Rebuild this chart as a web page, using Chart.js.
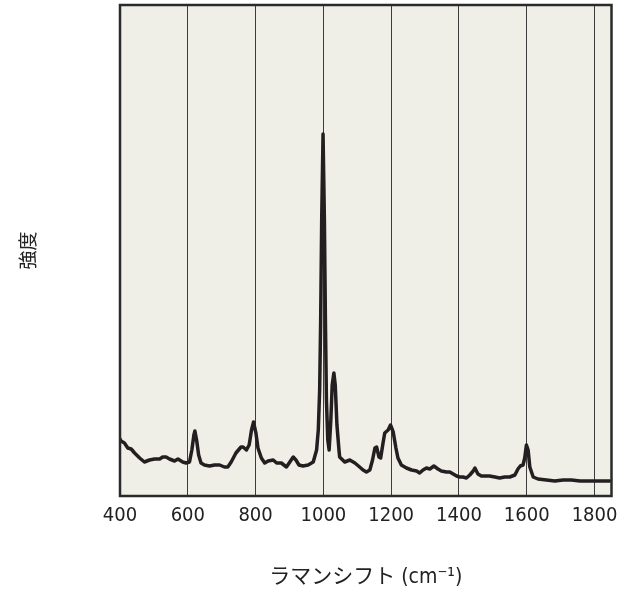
<!DOCTYPE html>
<html>
<head>
<meta charset="utf-8">
<script src="https://cdn.jsdelivr.net/npm/chart.js@4"></script>
<style>
  html, body { margin: 0; padding: 0; background: #fff; }
  #wrap { width: 627px; height: 596px; }
</style>
</head>
<body>
<div id="wrap"><canvas id="raman"></canvas></div>
<script>
const ramanShift = [400, 403, 413, 423, 433, 443, 458, 472, 487, 502, 517, 526, 536, 546, 561, 571, 585, 595, 605, 612, 618, 621, 626, 632, 639, 649, 664, 679, 694, 708, 718, 728, 742, 757, 763, 773, 781, 788, 794, 801, 807, 817, 827, 837, 852, 862, 876, 891, 901, 911, 919, 928, 940, 955, 970, 980, 985, 989, 992, 995, 999, 1003, 1006, 1009, 1013, 1017, 1022, 1026, 1031, 1035, 1040, 1046, 1048, 1063, 1078, 1093, 1107, 1117, 1127, 1137, 1145, 1152, 1157, 1164, 1169, 1176, 1181, 1191, 1198, 1206, 1214, 1220, 1230, 1245, 1260, 1275, 1284, 1294, 1304, 1314, 1326, 1338, 1348, 1363, 1373, 1383, 1393, 1402, 1412, 1422, 1432, 1442, 1447, 1456, 1466, 1476, 1490, 1506, 1520, 1535, 1550, 1565, 1574, 1581, 1589, 1594, 1599, 1604, 1609, 1619, 1633, 1658, 1683, 1707, 1732, 1757, 1781, 1806, 1830, 1845];
const intensity = [57, 55, 53, 48, 47, 43, 38, 34, 36, 37, 37, 39, 39, 37, 35, 37, 34, 33, 34, 46, 61, 65, 56, 41, 33, 31, 30, 31, 31, 29, 29, 34, 43, 49, 49, 46, 51, 66, 74, 63, 48, 38, 33, 35, 36, 33, 33, 29, 34, 39, 36, 31, 30, 31, 34, 46, 66, 106, 176, 276, 362, 276, 176, 96, 56, 46, 76, 111, 123, 111, 71, 46, 39, 34, 36, 33, 29, 26, 24, 26, 36, 48, 49, 39, 38, 53, 63, 66, 71, 64, 48, 38, 31, 28, 26, 25, 23, 26, 28, 27, 30, 27, 25, 24, 24, 22, 20, 19, 19, 18, 21, 25, 28, 22, 20, 20, 20, 19, 18, 19, 19, 21, 27, 30, 31, 38, 51, 46, 29, 19, 17, 16, 15, 16, 16, 15, 15, 15, 15, 15];
const xTicks = [400, 600, 800, 1000, 1200, 1400, 1600, 1800];

const plotBg = "#f0efe7";
const frameColor = "#2a2a2a";
const gridColor = "#3c3c3c";
const lineColor = "#231f20";

// frame + panel background
const panelPlugin = {
  id: "panel",
  beforeDraw(chart) {
    const { ctx, chartArea: a } = chart;
    ctx.save();
    ctx.fillStyle = plotBg;
    ctx.fillRect(a.left, a.top, a.right - a.left, a.bottom - a.top);
    ctx.restore();
  },
  afterDraw(chart) {
    const { ctx, chartArea: a } = chart;
    ctx.save();
    ctx.strokeStyle = frameColor;
    ctx.lineWidth = 2.5;
    ctx.strokeRect(a.left, a.top, a.right - a.left, a.bottom - a.top);
    ctx.restore();
  },
};

new Chart(document.getElementById("raman"), {
  type: "line",
  data: {
    datasets: [
      {
        data: ramanShift.map((x, i) => ({ x: x, y: intensity[i] })),
        borderColor: lineColor,
        borderWidth: 3.5,
        pointRadius: 0,
        tension: 0,
        borderJoinStyle: "round",
        borderCapStyle: "round",
      },
    ],
  },
  options: {
    responsive: true,
    maintainAspectRatio: false,
    animation: false,
    layout: { padding: { top: 5, right: 15.5, left: 0, bottom: 0 } },
    plugins: {
      legend: { display: false },
      tooltip: { enabled: false },
    },
    scales: {
      x: {
        type: "linear",
        min: 400,
        max: 1850,
        afterFit(scale) {
          scale.height = 100;
          scale.paddingLeft = 0;
          scale.paddingRight = 0;
        },
        afterBuildTicks(scale) { scale.ticks = xTicks.map((v) => ({ value: v })); },
        ticks: {
          padding: 8,
          color: "#222",
          font: { family: "'DejaVu Sans Condensed', 'DejaVu Sans'", size: 20 },
          maxRotation: 0,
          autoSkip: false,
          callback: (v) => String(v),
        },
        grid: { color: gridColor, lineWidth: 1, drawTicks: false },
        border: { display: false },
        title: {
          display: true,
          text: "ラマンシフト (cm⁻¹)",
          color: "#222",
          font: { family: "'DejaVu Sans Condensed', 'Noto Sans CJK JP'", size: 21 },
          padding: { top: 0, bottom: 6 },
        },
      },
      y: {
        min: 0,
        max: 491,
        afterFit(scale) { scale.width = 120; },
        ticks: { display: false },
        grid: { display: false },
        border: { display: false },
        title: {
          display: true,
          text: "強度",
          color: "#222",
          font: { family: "'Noto Sans CJK JP'", size: 19 },
          padding: { top: 16, bottom: 0 },
        },
      },
    },
  },
  plugins: [panelPlugin],
});
</script>
</body>
</html>
